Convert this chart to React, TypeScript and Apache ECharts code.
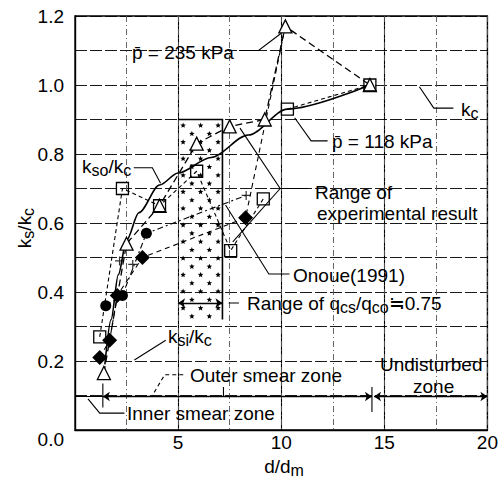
import React, { useEffect, useRef } from 'react';
import * as echarts from 'echarts';

const FONT = '"Liberation Sans", Arial, Helvetica, sans-serif';

// axis ticks
const xTickValues = [5, 10, 15, 20];
const xTickLabels = ['5', '10', '15', '20'];
const yTickValues = [0, 0.2, 0.4, 0.6, 0.8, 1.0, 1.2];
const yTickLabels = ['0.0', '0.2', '0.4', '0.6', '0.8', '1.0', '1.2'];

// k_s/k_c curve (solid)
const ksCurve: [number, number][] = [
  [1.45, 0.19], [1.75, 0.32], [2.1, 0.45], [2.5, 0.55], [3.1, 0.63],
  [4.1, 0.71], [5.0, 0.745], [6.6, 0.79], [8.4, 0.855], [10.3, 0.93], [14.3, 1.0],
];

// p = 235 kPa (triangles)
const p235: [number, number][] = [
  [1.4, 0.165], [2.5, 0.54], [4.1, 0.65], [5.9, 0.83], [7.5, 0.88],
  [9.2, 0.9], [10.2, 1.17], [14.3, 1.0],
];

// p = 118 kPa (squares); the last two sit on the k_c curve
const p118: [number, number][] = [
  [1.2, 0.27], [2.3, 0.70], [4.1, 0.65], [5.9, 0.75], [7.55, 0.52], [9.13, 0.67],
];
const p118Upper: [number, number][] = [[10.3, 0.93], [14.3, 1.0]];

// filled circles, dash-dot line runs on to the plus mark
const circlePts: [number, number][] = [
  [1.49, 0.36], [2.3, 0.39], [3.46, 0.57],
];
const circleEnd: [number, number] = [8.3, 0.68];

// filled diamonds, dashed line runs on to the peak
const diamondPts: [number, number][] = [
  [1.2, 0.21], [1.68, 0.26], [2.05, 0.39], [3.27, 0.50], [8.27, 0.615],
];
const diamondEnd: [number, number] = [10.2, 1.17];

// plus marks
const plusPts: [number, number][] = [[2.16, 0.49], [2.8, 0.48], [8.3, 0.68]];

// range of q_cs/q_co
const rangeX = [5.0, 7.15];
const rangeY = [0.32, 0.9];
const rangeArrowY = 0.368;

// zone boundaries
const zoneY = 0.097;
const innerEdge = 1.35;
const midTick = 7.2;
const outerEdge = 14.4;

// leader lines
const leaders: [number, number][][] = [
  [[7.95, 1.1], [8.9, 1.1], [10.0, 1.15]],
  [[12.25, 0.838], [11.45, 0.838], [10.65, 0.905]],
  [[18.35, 0.933], [17.4, 0.933], [16.7, 0.995]],
  [[11.3, 0.70], [9.95, 0.70], [8.0, 0.875]],
  [[9.95, 0.70], [7.65, 0.545]],
  [[10.4, 0.452], [9.4, 0.452], [7.3, 0.652]],
  [[7.45, rangeArrowY], [7.95, rangeArrowY]],
  [[2.4, 0.049], [1.2, 0.049], [0.63, 0.09]],
  [[2.85, 0.76], [3.75, 0.76], [4.15, 0.715]],
  [[4.4, 0.26], [2.88, 0.203]],
  [[0, zoneY], [innerEdge, zoneY]],
  [[innerEdge, 0.065], [innerEdge, 0.135]],
  [[midTick, zoneY], [midTick, 0.125]],
  [[outerEdge, 0.052], [outerEdge, 0.125]],
];
const dashedLeaders: [number, number][][] = [
  [[5.25, 0.16], [4.35, 0.16], [3.75, 0.1]],
];
const arrowLines: [number, number][][] = [
  [[innerEdge, zoneY], [outerEdge, zoneY]],
  [[outerEdge + 0.1, zoneY], [20, zoneY]],
  [[rangeX[0], rangeArrowY], [rangeX[1], rangeArrowY]],
];

const RICH = {
  n: { fontSize: 19, fontFamily: FONT, fill: '#000', lineHeight: 24, verticalAlign: 'middle' },
  s: { fontSize: 16, fontFamily: FONT, fill: '#000', lineHeight: 16, verticalAlign: 'bottom' },
};

function label(x: number, y: number, text: string, extra: any = {}) {
  return {
    type: 'text',
    x,
    y,
    z: 100,
    style: {
      text,
      fontSize: 19,
      fontFamily: FONT,
      fill: '#000',
      verticalAlign: 'middle',
      align: 'left',
      rich: RICH,
      ...extra,
    },
  };
}

function starPoints(cx: number, cy: number, r: number) {
  const pts: number[][] = [];
  for (let i = 0; i < 10; i++) {
    const a = -Math.PI / 2 + (i * Math.PI) / 5;
    const rr = i % 2 === 0 ? r : r * 0.45;
    pts.push([cx + rr * Math.cos(a), cy + rr * Math.sin(a)]);
  }
  return pts;
}

function fmtX(v: number) {
  const i = xTickValues.findIndex((t) => Math.abs(t - v) < 1e-6);
  return i >= 0 ? xTickLabels[i] : '';
}

function fmtY(v: number) {
  const i = yTickValues.findIndex((t) => Math.abs(t - v) < 1e-6);
  if (i < 0) return '';
  return i === 0 ? '{z|' + yTickLabels[0] + '}' : yTickLabels[i];
}

export default function App() {
  const ref = useRef<HTMLDivElement>(null);

  useEffect(() => {
    if (!ref.current) return;
    const chart = echarts.init(ref.current, undefined, { renderer: 'svg' });

    const markerBase = { type: 'line', xAxisIndex: 0, yAxisIndex: 0, z: 5 };

    const option: any = {
      animation: false,
      backgroundColor: '#fff',
      grid: {
        left: 75, right: 10, top: 16, bottom: 47,
        show: true, borderColor: '#000', borderWidth: 1.3, backgroundColor: 'transparent',
      },
      xAxis: [
        {
          type: 'value', min: 0, max: 20, interval: 5,
          axisLine: { show: true, lineStyle: { color: '#000', width: 1.3 } },
          axisTick: { show: false },
          axisLabel: { formatter: fmtX, color: '#000', fontSize: 19, fontFamily: FONT, margin: 3 },
          splitLine: { show: true, lineStyle: { color: '#000', width: 1.1 } },
        },
        {
          type: 'value', min: 0, max: 20, interval: 2.5, position: 'bottom',
          axisLine: { show: false }, axisTick: { show: false }, axisLabel: { show: false },
          splitLine: { show: true, lineStyle: { color: '#555', width: 0.9, type: [6, 3, 1, 3] } },
        },
      ],
      yAxis: {
        type: 'value', min: 0, max: 1.2, interval: 0.1,
        axisLine: { show: true, lineStyle: { color: '#000', width: 1.3 } },
        axisTick: { show: false },
        axisLabel: {
          formatter: fmtY, color: '#000', fontSize: 19, fontFamily: FONT, margin: 11,
          rich: { z: { fontSize: 19, fontFamily: FONT, color: '#000', padding: [18, 0, 0, 0] } },
        },
        splitLine: { show: true, lineStyle: { color: '#000', width: 0.9, type: [12, 3] } },
      },
      series: [
        {
          type: 'custom', xAxisIndex: 0, yAxisIndex: 0, z: 2, silent: true,
          data: [[rangeX[0], rangeY[0]]],
          renderItem: (_p: any, api: any) => {
            const tl = api.coord([rangeX[0], rangeY[1]]);
            const br = api.coord([rangeX[1], rangeY[0]]);
            const children: any[] = [
              {
                type: 'polyline',
                shape: { points: [[tl[0], tl[1]], [br[0], tl[1]], [br[0], br[1]]] },
                style: { stroke: '#000', lineWidth: 1.6, fill: 'none' },
              },
            ];
            const stepY = 8.3;
            const stepX = 17.5;
            let row = 0;
            for (let y = tl[1] + 6; y < br[1] - 3; y += stepY, row++) {
              const off = row % 2 === 0 ? 5 : 5 + stepX / 2;
              for (let x = tl[0] + off; x < br[0] - 3; x += stepX) {
                children.push({ type: 'polygon', shape: { points: starPoints(x, y, 2.9) }, style: { fill: '#000' } });
              }
            }
            return { type: 'group', children };
          },
        },
        {
          ...markerBase, name: 'ks', data: ksCurve, smooth: 0.3, smoothMonotone: 'x', showSymbol: false, symbol: 'none',
          lineStyle: { color: '#000', width: 1.6 },
        },
        {
          ...markerBase, name: 'p235', data: p235, symbol: 'triangle', symbolSize: 13,
          itemStyle: { color: '#fff', borderColor: '#000', borderWidth: 1.3 },
          lineStyle: { color: '#000', width: 1.3, type: [7, 4] },
        },
        {
          ...markerBase, name: 'p118', data: [...p118, '-', ...p118Upper], connectNulls: false,
          symbol: 'rect', symbolSize: 12,
          itemStyle: { color: 'rgba(255,255,255,0)', borderColor: '#000', borderWidth: 1.3 },
          lineStyle: { color: '#000', width: 1.1, type: [4, 3] },
        },
        {
          ...markerBase, name: 'circles',
          data: [...circlePts, { value: circleEnd, symbol: 'none' }],
          symbol: 'circle', symbolSize: 11,
          itemStyle: { color: '#000' },
          lineStyle: { color: '#000', width: 1.1, type: [6, 3, 2, 3] },
        },
        {
          ...markerBase, name: 'diamonds',
          data: [...diamondPts, { value: diamondEnd, symbol: 'none' }],
          symbol: 'diamond', symbolSize: 15,
          itemStyle: { color: '#000' },
          lineStyle: { color: '#000', width: 1.1, type: [5, 4] },
        },
        {
          type: 'scatter', xAxisIndex: 0, yAxisIndex: 0, z: 6, data: plusPts,
          symbol: 'path://M0,5H10M5,0V10', symbolSize: 9,
          itemStyle: { color: 'none', borderColor: '#000', borderWidth: 1.2 },
        },
        {
          type: 'lines', coordinateSystem: 'cartesian2d', xAxisIndex: 0, yAxisIndex: 0,
          polyline: true, silent: true, z: 4,
          data: leaders.map((c) => ({ coords: c })),
          lineStyle: { color: '#000', width: 1.1, opacity: 1 },
        },
        {
          type: 'lines', coordinateSystem: 'cartesian2d', xAxisIndex: 0, yAxisIndex: 0,
          polyline: true, silent: true, z: 4,
          data: dashedLeaders.map((c) => ({ coords: c })),
          lineStyle: { color: '#000', width: 1.1, opacity: 1, type: [4, 3] },
        },
        {
          type: 'lines', coordinateSystem: 'cartesian2d', xAxisIndex: 0, yAxisIndex: 0,
          silent: true, z: 4, symbol: ['arrow', 'arrow'], symbolSize: 7,
          data: arrowLines.map((c) => ({ coords: c })),
          lineStyle: { color: '#000', width: 1.3, opacity: 1 },
        },
      ],
      graphic: [
        label(132, 52, 'p\u0304 = 235 kPa'),
        label(332, 141, 'p\u0304 = 118 kPa'),
        label(461, 109, '{n|k}{s|c}'),
        label(315, 192, 'Range of'),
        label(317, 213, 'experimental result'),
        label(293, 275, 'Onoue(1991)'),
        label(247, 303, '{n|Range of q}{s|cs}{n|/q}{s|co}{n|\u22520.75}'),
        label(380, 364, 'Undisturbed'),
        label(413, 386, 'zone'),
        label(190, 375, 'Outer smear zone'),
        label(127, 413, 'Inner smear zone'),
        label(82, 166, '{n|k}{s|so}{n|/k}{s|c}'),
        label(168, 336, '{n|k}{s|si}{n|/k}{s|c}'),
        label(284, 466, '{n|d/d}{s|m}', { align: 'center' }),
        { ...label(24, 228, '{n|k}{s|s}{n|/k}{s|c}', { align: 'center' }), rotation: Math.PI / 2 },
      ],
    };

    chart.setOption(option);
    return () => chart.dispose();
  }, []);

  return (
    <div
      ref={ref}
      style={{ position: 'fixed', left: 0, top: 0, width: 501, height: 477, background: '#fff' }}
    />
  );
}
